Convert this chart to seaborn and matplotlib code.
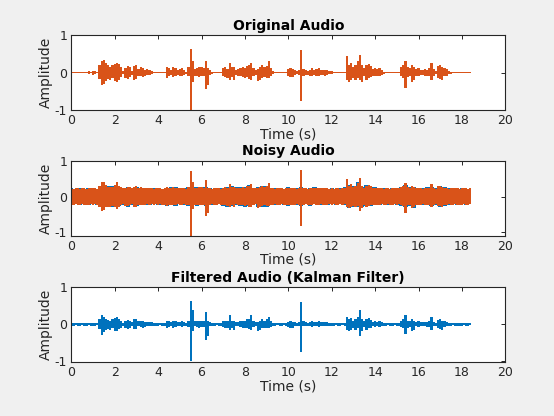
import numpy as np
import matplotlib
matplotlib.use("Agg")
import matplotlib.pyplot as plt
import seaborn as sns

# ---------------- data (envelopes) ----------------
TIME_STEP = 0.1        # seconds per envelope bin (orange / filtered)
TIME_STEP_BLUE = 0.2   # seconds per envelope bin (noisy channel 1)

ORIG_UP = [
    .015,.015,.015,.015,.015,.015,.015,.015,.04,.015,
    .05,.04,.015,.2,.3,.33,.25,.2,.15,.2,
    .24,.26,.22,.15,.04,.12,.17,.14,.05,.18,
    .2,.1,.14,.12,.08,.1,.08,.05,.015,.015,
    .015,.015,.015,.015,.14,.12,.08,.15,.12,.08,
    .1,.12,.06,.03,.15,.63,.3,.1,.12,.15,
    .14,.12,.3,.12,.08,.03,.015,.015,.015,.015,
    .12,.15,.1,.26,.15,.14,.06,.1,.12,.15,
    .12,.18,.2,.26,.12,.06,.1,.15,.2,.15,
    .18,.3,.12,.04,.015,.015,.015,.015,.015,.015,
    .1,.12,.1,.08,.04,.08,.61,.1,.06,.05,
    .08,.12,.08,.1,.12,.06,.07,.08,.06,.05,
    .04,.015,.015,.015,.015,.015,.015,.45,.2,.25,
    .15,.2,.3,.46,.2,.12,.2,.22,.18,.1,
    .12,.1,.12,.08,.03,.015,.015,.015,.015,.015,
    .015,.015,.15,.2,.3,.15,.12,.2,.15,.1,
    .12,.08,.06,.1,.08,.12,.25,.1,.05,.18,
    .2,.15,.12,.1,.05,.03,.015,.015,.015,.015,
    .015,.015,.015,.015,.015,
]
ORIG_LO = [
    .015,.015,.015,.015,.015,.015,.015,.015,.04,.015,
    .05,.04,.015,.18,.33,.3,.22,.18,.2,.15,
    .22,.24,.2,.12,.04,.15,.17,.12,.05,.2,
    .18,.08,.1,.12,.1,.06,.06,.04,.015,.015,
    .015,.015,.015,.015,.15,.1,.06,.12,.1,.06,
    .08,.1,.05,.03,.1,1.0,.25,.08,.1,.12,
    .1,.1,.44,.34,.06,.03,.015,.015,.015,.015,
    .1,.12,.15,.2,.12,.2,.05,.08,.1,.12,
    .15,.12,.18,.2,.1,.05,.23,.2,.15,.12,
    .15,.15,.1,.04,.015,.015,.015,.015,.015,.015,
    .1,.12,.12,.06,.04,.06,.76,.08,.05,.05,
    .08,.1,.06,.08,.1,.05,.06,.08,.06,.04,
    .03,.015,.015,.015,.015,.015,.015,.2,.25,.2,
    .15,.2,.15,.2,.25,.1,.2,.15,.12,.08,
    .1,.08,.1,.06,.03,.015,.015,.015,.015,.015,
    .015,.015,.1,.15,.41,.12,.1,.25,.2,.08,
    .1,.06,.05,.08,.1,.1,.2,.08,.04,.15,
    .18,.2,.1,.08,.04,.03,.015,.015,.015,.015,
    .015,.015,.015,.015,.015,
]

NOISY_UP = [
    .23,.22,.24,.23,.22,.23,.24,.22,.23,.23,
    .24,.23,.22,.3,.42,.4,.33,.28,.26,.28,
    .32,.4,.3,.26,.23,.25,.28,.26,.23,.28,
    .3,.24,.26,.25,.23,.24,.23,.23,.22,.23,
    .23,.24,.22,.23,.26,.25,.23,.27,.25,.23,
    .24,.25,.23,.22,.27,.72,.4,.24,.25,.27,
    .26,.25,.47,.25,.23,.22,.23,.24,.23,.22,
    .25,.27,.24,.35,.27,.26,.23,.24,.25,.27,
    .25,.29,.3,.35,.25,.23,.24,.27,.31,.27,
    .29,.38,.25,.23,.22,.24,.23,.23,.22,.24,
    .24,.25,.24,.23,.22,.23,.75,.24,.23,.22,
    .23,.25,.23,.24,.25,.23,.23,.24,.23,.22,
    .23,.22,.24,.23,.22,.23,.24,.5,.3,.34,
    .27,.3,.38,.52,.3,.25,.3,.32,.29,.24,
    .25,.23,.25,.23,.22,.23,.24,.22,.23,.23,
    .23,.24,.27,.3,.38,.27,.25,.3,.27,.23,
    .25,.23,.22,.24,.23,.25,.35,.24,.22,.29,
    .3,.27,.25,.24,.22,.23,.23,.24,.23,.22,
    .23,.24,.23,.22,.23,
]
NOISY_LO = [
    .22,.23,.22,.24,.23,.22,.23,.23,.24,.22,
    .23,.22,.23,.28,.4,.38,.3,.28,.29,.26,
    .3,.35,.29,.25,.22,.26,.27,.25,.22,.29,
    .28,.23,.24,.25,.23,.22,.23,.22,.23,.22,
    .23,.22,.24,.23,.27,.24,.23,.25,.24,.22,
    .23,.24,.22,.23,.25,1.1,.35,.23,.24,.25,
    .24,.23,.56,.45,.23,.22,.23,.23,.22,.23,
    .24,.25,.26,.3,.25,.29,.22,.23,.24,.25,
    .27,.25,.28,.3,.24,.22,.32,.29,.26,.25,
    .26,.26,.24,.23,.22,.23,.24,.22,.23,.23,
    .24,.25,.25,.23,.22,.23,.84,.23,.22,.23,
    .23,.24,.22,.23,.24,.22,.23,.24,.23,.22,
    .23,.22,.23,.24,.22,.23,.22,.29,.32,.29,
    .26,.29,.26,.4,.32,.24,.29,.26,.25,.23,
    .24,.23,.24,.22,.23,.23,.22,.23,.24,.22,
    .23,.22,.24,.26,.45,.25,.24,.33,.29,.23,
    .24,.23,.22,.23,.24,.23,.29,.23,.22,.26,
    .27,.29,.24,.23,.22,.23,.24,.22,.23,.23,
    .23,.22,.24,.23,.22,
]

NOISY_BLUE_UP = [
    .25,.22,.24,.21,.25,.22,.2,.31,.3,.3,
    .3,.28,.24,.27,.25,.26,.22,.25,.21,.24,
    .25,.22,.25,.26,.26,.22,.25,.28,.26,.27,
    .28,.27,.24,.22,.25,.25,.27,.29,.26,.28,
    .27,.32,.25,.26,.3,.3,.25,.24,.25,.22,
    .26,.22,.25,.26,.22,.25,.26,.25,.25,.22,
    .25,.22,.24,.26,.33,.3,.4,.28,.33,.27,
    .26,.22,.25,.22,.24,.22,.28,.32,.27,.28,
    .24,.24,.26,.27,.25,.3,.27,.24,.25,.22,
    .25,.22,.22,
]
NOISY_BLUE_LO = [
    .24,.22,.25,.21,.25,.22,.24,.3,.3,.29,
    .28,.27,.24,.28,.25,.26,.22,.25,.24,.22,
    .24,.25,.26,.22,.26,.22,.25,.26,.25,.27,
    .25,.26,.24,.25,.22,.27,.28,.27,.24,.26,
    .28,.27,.22,.3,.28,.28,.22,.25,.22,.25,
    .26,.24,.25,.26,.22,.26,.22,.25,.24,.25,
    .22,.25,.22,.25,.31,.28,.3,.3,.27,.26,
    .22,.25,.22,.25,.22,.24,.27,.3,.27,.32,
    .22,.25,.22,.26,.24,.3,.27,.24,.22,.25,
    .22,.25,.22,
]

FILT_UP = [
    .04,.04,.045,.04,.04,.045,.04,.04,.045,.04,
    .045,.04,.04,.15,.25,.2,.15,.12,.1,.14,
    .17,.2,.15,.1,.045,.1,.12,.1,.05,.13,
    .14,.08,.1,.09,.06,.07,.06,.05,.04,.04,
    .04,.045,.04,.04,.1,.09,.06,.1,.08,.06,
    .07,.09,.05,.04,.1,.63,.39,.08,.09,.1,
    .1,.09,.32,.09,.06,.04,.04,.045,.04,.04,
    .09,.1,.08,.25,.1,.1,.05,.07,.09,.1,
    .09,.13,.15,.25,.09,.05,.07,.1,.15,.1,
    .13,.2,.08,.045,.04,.04,.045,.04,.04,.045,
    .07,.09,.07,.06,.04,.06,.6,.08,.05,.045,
    .06,.09,.06,.07,.09,.05,.05,.06,.05,.045,
    .045,.04,.04,.045,.04,.04,.045,.2,.14,.17,
    .1,.14,.2,.39,.14,.08,.14,.16,.12,.07,
    .09,.07,.09,.06,.045,.04,.04,.045,.04,.04,
    .04,.045,.1,.14,.24,.1,.08,.14,.1,.07,
    .09,.06,.05,.07,.06,.09,.2,.07,.045,.12,
    .14,.1,.09,.07,.045,.04,.04,.045,.04,.045,
    .04,.045,.04,.04,.045,
]
FILT_LO = [
    .035,.035,.03,.035,.035,.03,.035,.035,.03,.035,
    .035,.035,.03,.14,.29,.22,.16,.13,.15,.11,
    .17,.18,.14,.09,.035,.11,.12,.09,.04,.14,
    .13,.06,.07,.09,.07,.05,.05,.04,.035,.035,
    .035,.03,.035,.035,.11,.07,.05,.09,.07,.05,
    .06,.07,.04,.035,.07,1.0,.18,.06,.07,.09,
    .07,.07,.42,.32,.05,.035,.035,.03,.035,.035,
    .07,.09,.11,.15,.09,.15,.04,.06,.07,.09,
    .11,.09,.13,.15,.07,.04,.17,.15,.11,.09,
    .11,.11,.07,.035,.035,.03,.035,.035,.03,.035,
    .07,.09,.09,.05,.035,.05,.74,.06,.04,.04,
    .06,.07,.05,.06,.07,.04,.05,.06,.05,.035,
    .035,.035,.03,.035,.035,.03,.035,.15,.18,.15,
    .11,.15,.11,.33,.18,.07,.15,.11,.09,.06,
    .07,.06,.07,.05,.035,.035,.03,.035,.035,.03,
    .035,.035,.07,.11,.26,.09,.07,.18,.15,.06,
    .07,.05,.04,.06,.07,.07,.15,.06,.035,.11,
    .13,.15,.07,.06,.035,.035,.03,.035,.035,.035,
    .035,.03,.035,.035,.03,
]

TITLES = ["Original Audio", "Noisy Audio", "Filtered Audio (Kalman Filter)"]
XLABEL = "Time (s)"
YLABEL = "Amplitude"
XTICKS = [0, 2, 4, 6, 8, 10, 12, 14, 16, 18, 20]
YTICKS = [-1, 0, 1]
YLIMS = [(-1.0, 1.0), (-1.1, 1.0), (-1.02, 1.0)]

BLUE = "#0072BD"
ORANGE = "#D95319"
AX_COLOR = "#262626"

# ---------------- style ----------------
sns.set_theme(style="white")
plt.rcParams["font.family"] = ["DejaVu Sans"]
plt.rcParams.update({
    "axes.unicode_minus": False,
    "axes.edgecolor": AX_COLOR,
    "axes.linewidth": 0.8,
    "xtick.color": AX_COLOR,
    "ytick.color": AX_COLOR,
    "xtick.direction": "in",
    "ytick.direction": "in",
    "xtick.top": True,
    "ytick.right": True,
    "xtick.major.size": 3.2,
    "ytick.major.size": 3.2,
    "xtick.major.width": 0.7,
    "ytick.major.width": 0.7,
    "xtick.labelsize": 9,
    "ytick.labelsize": 9,
    "axes.labelsize": 10,
    "axes.labelcolor": AX_COLOR,
    "text.color": "black",
})

fig = plt.figure(figsize=(5.54, 4.16), dpi=100, facecolor="#F0F0F0")
left, width, height = 0.1287, 0.7834, 0.1796
bottoms = [0.7356, 0.4334, 0.1298]
axes = [fig.add_axes([left, b, width, height]) for b in bottoms]


def draw_env(ax, up, lo, step, color):
    up = np.asarray(up)
    lo = np.asarray(lo)
    t = np.arange(len(up)) * step
    ax.fill_between(t, -lo, up, step="mid", color=color, lw=0)


# Original: two identical channels, orange drawn over blue
draw_env(axes[0], ORIG_UP, ORIG_LO, TIME_STEP, BLUE)
draw_env(axes[0], ORIG_UP, ORIG_LO, TIME_STEP, ORANGE)
# Noisy: blue channel 1 under orange channel 2
draw_env(axes[1], NOISY_BLUE_UP, NOISY_BLUE_LO, TIME_STEP_BLUE, BLUE)
draw_env(axes[1], NOISY_UP, NOISY_LO, TIME_STEP, ORANGE)
# Filtered
draw_env(axes[2], FILT_UP, FILT_LO, TIME_STEP, BLUE)

for ax, title, ylim in zip(axes, TITLES, YLIMS):
    ax.set_facecolor("white")
    ax.set_xlim(0, 20)
    ax.set_ylim(*ylim)
    ax.set_xticks(XTICKS)
    ax.set_yticks(YTICKS)
    ax.set_title(title, fontsize=10, fontweight="bold", pad=4)
    ax.set_xlabel(XLABEL, labelpad=0)
    ax.set_ylabel(YLABEL, labelpad=1)
    for s in ax.spines.values():
        s.set_visible(True)
        s.set_color(AX_COLOR)
    ax.tick_params(axis="both", which="major", pad=3)

fig.savefig("out.png", dpi=100, facecolor=fig.get_facecolor())
